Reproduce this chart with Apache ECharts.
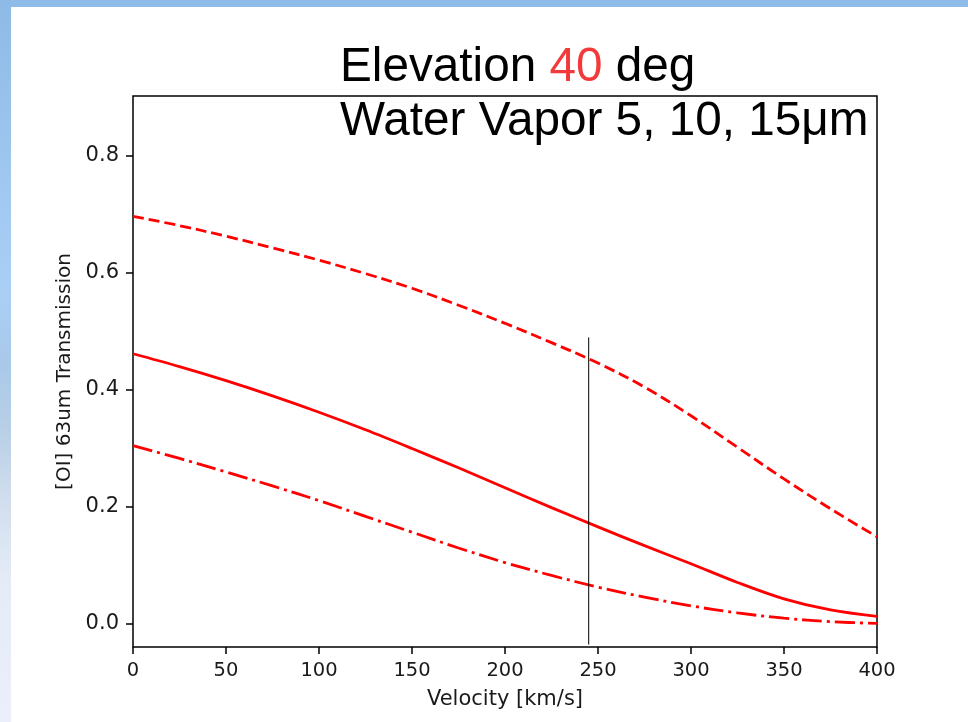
<!DOCTYPE html>
<html>
<head>
<meta charset="utf-8">
<script src="https://cdn.jsdelivr.net/npm/echarts@6/dist/echarts.min.js"></script>
<style>
  html, body { margin: 0; padding: 0; width: 968px; height: 722px; overflow: hidden; background: #ffffff; }
  #topbar { position: absolute; left: 0; top: 0; width: 968px; height: 7px; background: #8fbbe8; }
  #leftbar { position: absolute; left: 0; top: 0; width: 11px; height: 722px;
    background: linear-gradient(to bottom, #8dbae6 0%, #9cc5ee 20%, #aacff6 40%, #a9c9ea 50%, #b9d0e6 60%, #d3dfee 70%, #e4ebf7 80%, #ebeffa 100%); }
  #chart { position: absolute; left: 0; top: 0; width: 968px; height: 722px; }
</style>
</head>
<body>
<div id="topbar"></div>
<div id="leftbar"></div>
<div id="chart"></div>
<script>
// ---- data ----
const velocity = [0, 25, 50, 75, 100, 125, 150, 175, 200, 225, 250, 275, 300, 325, 350, 375, 400];
const wv5  = [0.697, 0.681, 0.663, 0.643, 0.622, 0.599, 0.574, 0.545, 0.514, 0.481, 0.446, 0.405, 0.356, 0.302, 0.248, 0.197, 0.149];
const wv10 = [0.462, 0.440, 0.416, 0.390, 0.362, 0.332, 0.300, 0.267, 0.233, 0.199, 0.166, 0.134, 0.103, 0.071, 0.043, 0.024, 0.013];
const wv15 = [0.305, 0.283, 0.260, 0.236, 0.211, 0.184, 0.157, 0.130, 0.105, 0.083, 0.063, 0.046, 0.031, 0.019, 0.010, 0.004, 0.001];
const markerVelocity = 245;
const markerRange = [-0.035, 0.49];
const yTicks = [0, 0.2, 0.4, 0.6, 0.8];
const xTickStep = 50;
const titleLine1 = ['Elevation ', '40', ' deg'];
const titleLine2 = 'Water Vapor 5, 10, 15μm';
const xName = 'Velocity [km/s]';
const yName = '[OI] 63um Transmission';

const pairs = (ys) => velocity.map((v, i) => [v, ys[i]]);

const chart = echarts.init(document.getElementById('chart'), null, { renderer: 'canvas' });
chart.setOption({
  animation: false,
  backgroundColor: 'transparent',
  title: {
    left: 335, top: 36,
    text: titleLine1[0] + '{r|' + titleLine1[1] + '}' + titleLine1[2] + '\n' + titleLine2,
    textStyle: {
      fontFamily: 'Liberation Sans', fontSize: 47.7, fontWeight: 'normal', color: '#000', lineHeight: 54,
      rich: { r: { color: '#f23a3a', fontFamily: 'Liberation Sans', fontSize: 47.7, lineHeight: 54 } }
    }
  },
  grid: {
    left: 133, right: 91, top: 96, bottom: 75,
    show: true, borderColor: '#000', borderWidth: 1.5, backgroundColor: 'transparent'
  },
  xAxis: {
    type: 'value', min: 0, max: 400, interval: xTickStep,
    name: xName, nameLocation: 'middle', nameGap: 42,
    nameTextStyle: { fontFamily: 'DejaVu Sans', fontSize: 21, color: '#1a1a1a' },
    axisLine: { show: false, onZero: false },
    axisTick: { show: true, inside: false, length: 7, lineStyle: { color: '#000', width: 1.5 } },
    axisLabel: { margin: 14, fontFamily: 'DejaVu Sans', fontSize: 19.5, color: '#1a1a1a' },
    splitLine: { show: false }
  },
  yAxis: {
    type: 'value', min: -0.0393, max: 0.9026,
    name: yName, nameLocation: 'middle', nameGap: 56, nameRotate: 90,
    nameTextStyle: { fontFamily: 'DejaVu Sans', fontSize: 20, color: '#1a1a1a' },
    axisLine: { show: false, onZero: false },
    axisTick: { show: true, inside: false, length: 7, customValues: yTicks, lineStyle: { color: '#000', width: 1.5 } },
    axisLabel: { margin: 14, customValues: yTicks, formatter: (v) => v.toFixed(1),
      fontFamily: 'DejaVu Sans', fontSize: 21, color: '#1a1a1a' },
    splitLine: { show: false }
  },
  series: [
    { type: 'line', data: pairs(wv5), showSymbol: false, smooth: 0.35,
      lineStyle: { color: '#ff0000', width: 2.8, type: [11, 5] } },
    { type: 'line', data: pairs(wv10), showSymbol: false, smooth: 0.35,
      lineStyle: { color: '#ff0000', width: 2.8, type: 'solid' } },
    { type: 'line', data: pairs(wv15), showSymbol: false, smooth: 0.35,
      lineStyle: { color: '#ff0000', width: 2.8, type: [20, 5, 3, 5] } },
    { type: 'line', data: markerRange.map(y => [markerVelocity, y]), showSymbol: false,
      lineStyle: { color: '#000', width: 1 } }
  ]
});
</script>
</body>
</html>
